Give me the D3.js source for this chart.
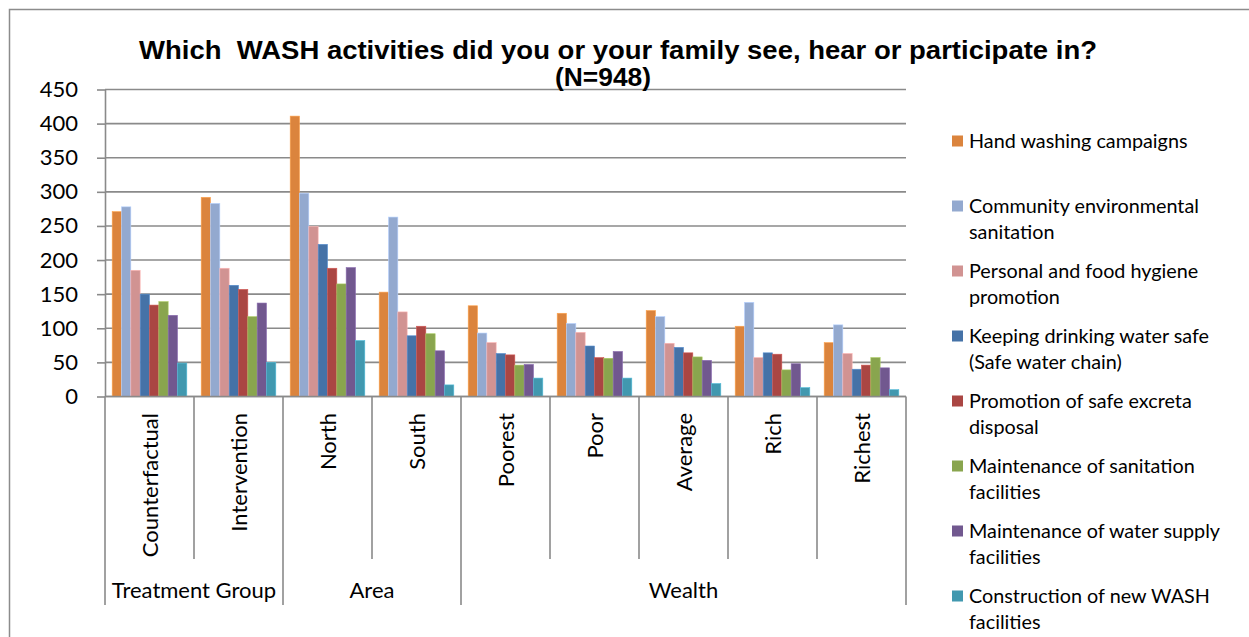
<!DOCTYPE html>
<html>
<head>
<meta charset="utf-8">
<script src="https://cdn.jsdelivr.net/npm/d3@7/dist/d3.min.js"></script>
<style>
  html, body { margin: 0; padding: 0; background: #fff; }
  svg { display: block; }
  text { fill: #000; }
</style>
</head>
<body>
<svg id="chart" width="1249" height="637"></svg>
<script>
// Categories along the x axis and the group each belongs to
const categories = ["Counterfactual", "Intervention", "North", "South", "Poorest", "Poor", "Average", "Rich", "Richest"];
const groups = [
  { name: "Treatment Group", from: 0, to: 1 },
  { name: "Area", from: 2, to: 3 },
  { name: "Wealth", from: 4, to: 8 }
];

// Series names (legend order)
const seriesNames = [
  "Hand washing campaigns",
  "Community environmental sanitation",
  "Personal and food hygiene promotion",
  "Keeping drinking water safe (Safe water chain)",
  "Promotion of safe excreta disposal",
  "Maintenance of sanitation facilities",
  "Maintenance of water supply facilities",
  "Construction of new WASH facilities"
];

// Values per series, one per category
const handWashing   = [271, 292, 411, 153, 133, 122, 126, 103, 79];
const communitySan  = [278, 283, 298, 263, 93, 107, 117, 138, 105];
const personalFood  = [185, 188, 249, 124, 79, 94, 78, 57, 63];
const safeWater     = [150, 163, 223, 89, 63, 74, 72, 64, 40];
const excreta       = [134, 157, 188, 103, 61, 57, 64, 62, 46];
const maintSan      = [139, 117, 165, 92, 46, 56, 58, 39, 57];
const maintWater    = [119, 137, 189, 67, 47, 66, 53, 48, 42];
const construction  = [49, 50, 82, 17, 27, 27, 19, 13, 10];

const seriesValues = [handWashing, communitySan, personalFood, safeWater, excreta, maintSan, maintWater, construction];

// Y axis ticks
const yTicks = [0, 50, 100, 150, 200, 250, 300, 350, 400, 450];

const colors = ["#DB843D", "#93A9CF", "#D19392", "#4572A7", "#AA4643", "#89A54E", "#71588F", "#4198AF"];

const svg = d3.select("#chart");
const font = "Lato, 'Open Sans', sans-serif";
const gridColor = "#8a8a8a";

const plot = { left: 105, right: 906, top: 89.5, bottom: 396.5 };

// outer frame
svg.append("path")
  .attr("d", "M9.5,637 V9.5 H1249")
  .attr("fill", "none").attr("stroke", "#8c8c8c").attr("stroke-width", 1.5);

const x0 = d3.scaleBand().domain(categories).range([plot.left, plot.right]).paddingInner(0).paddingOuter(0);
const x1 = d3.scaleBand().domain(d3.range(seriesNames.length)).range([0, x0.bandwidth()]).paddingInner(0).paddingOuter(0.77);
const y = d3.scaleLinear().domain([0, 450]).range([plot.bottom, plot.top]);

// gridlines
svg.append("g").selectAll("line").data(yTicks).join("line")
  .attr("x1", plot.left).attr("x2", plot.right)
  .attr("y1", d => y(d)).attr("y2", d => y(d))
  .attr("stroke", gridColor).attr("stroke-width", 1.6);

// y axis
const yAxis = svg.append("g").attr("transform", `translate(${plot.left},0)`)
  .call(d3.axisLeft(y).tickValues(yTicks).tickSize(8).tickPadding(19).tickSizeOuter(0));
yAxis.select(".domain").attr("stroke", gridColor).attr("stroke-width", 1.6);
yAxis.selectAll(".tick line").attr("stroke", gridColor).attr("stroke-width", 1.6);
yAxis.selectAll(".tick text").attr("font-family", font).attr("font-size", 22).attr("fill", "#000");

// bars
const catG = svg.append("g").selectAll("g").data(categories).join("g")
  .attr("transform", d => `translate(${x0(d)},0)`);
catG.selectAll("rect")
  .data((c, ci) => seriesValues.map((vals, si) => ({ si, v: vals[ci] })))
  .join("rect")
  .attr("x", d => x1(d.si))
  .attr("width", x1.bandwidth())
  .attr("y", d => y(d.v))
  .attr("height", d => y(0) - y(d.v))
  .attr("fill", d => colors[d.si])
  .attr("stroke", d => d3.color(colors[d.si]).brighter(0.6))
  .attr("stroke-width", 0.6);

// x axis line
svg.append("line")
  .attr("x1", plot.left).attr("x2", plot.right)
  .attr("y1", plot.bottom).attr("y2", plot.bottom)
  .attr("stroke", gridColor).attr("stroke-width", 1.6);

// category separators
const groupStarts = new Set(groups.map(g => g.from));
const sep = svg.append("g");
categories.forEach((c, i) => {
  if (!groupStarts.has(i)) {
    sep.append("line").attr("x1", x0(c)).attr("x2", x0(c))
      .attr("y1", plot.bottom).attr("y2", 559)
      .attr("stroke", gridColor).attr("stroke-width", 1.6);
  }
});
const groupEdges = groups.map(g => x0(categories[g.from])).concat([plot.right]);
groupEdges.forEach(xv => {
  sep.append("line").attr("x1", xv).attr("x2", xv)
    .attr("y1", plot.bottom).attr("y2", 605)
    .attr("stroke", gridColor).attr("stroke-width", 1.6);
});

// rotated category labels
svg.append("g").selectAll("text").data(categories).join("text")
  .attr("transform", d => `translate(${x0(d) + x0.bandwidth() / 2 + 8},413) rotate(-90)`)
  .attr("text-anchor", "end")
  .attr("font-family", font).attr("font-size", 22)
  .text(d => d);

// group labels
svg.append("g").selectAll("text").data(groups).join("text")
  .attr("x", g => (x0(categories[g.from]) + x0(categories[g.to]) + x0.bandwidth()) / 2)
  .attr("y", 598)
  .attr("text-anchor", "middle")
  .attr("font-family", font).attr("font-size", 22)
  .text(g => g.name);

// title
const title = svg.append("text")
  .attr("font-family", "'Liberation Sans', Arial, sans-serif")
  .attr("font-weight", "bold").attr("font-size", 25)
  .attr("xml:space", "preserve");
title.append("tspan").attr("x", 139).attr("y", 59)
  .attr("textLength", 958).attr("lengthAdjust", "spacingAndGlyphs")
  .text("Which  WASH activities did you or your family see, hear or participate in?");
title.append("tspan").attr("x", 555).attr("y", 86)
  .attr("textLength", 96).attr("lengthAdjust", "spacingAndGlyphs")
  .text("(N=948)");

// legend (wrapped entries)
const legendLines = [
  ["Hand washing campaigns"],
  ["Community environmental", "sanitation"],
  ["Personal and food hygiene", "promotion"],
  ["Keeping drinking water safe", "(Safe water chain)"],
  ["Promotion of safe excreta", "disposal"],
  ["Maintenance of sanitation", "facilities"],
  ["Maintenance of water supply", "facilities"],
  ["Construction of new WASH", "facilities"]
];
const legend = svg.append("g");
seriesNames.forEach((name, i) => {
  const cy = 141 + i * 65;
  legend.append("rect").attr("x", 952).attr("y", cy - 5.5).attr("width", 11).attr("height", 11)
    .attr("fill", colors[i]);
  const t = legend.append("text").attr("font-family", font).attr("font-size", 19.8);
  legendLines[i].forEach((ln, k) => {
    t.append("tspan").attr("x", 969).attr("y", cy + 7 + k * 25.5).text(ln);
  });
});
</script>
</body>
</html>
